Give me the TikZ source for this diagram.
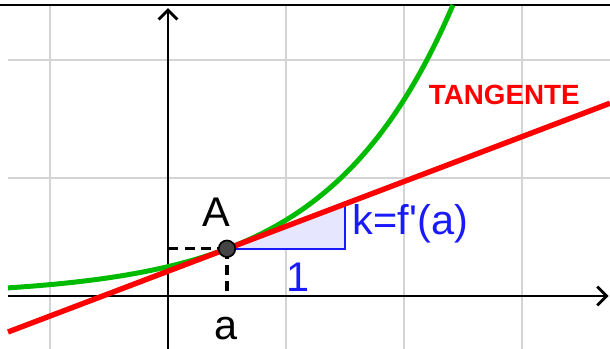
\documentclass[tikz,border=0pt]{standalone}
\usepackage{fontspec}
\setmainfont{Liberation Sans}
\usetikzlibrary{arrows.meta,positioning}
\definecolor{gridgray}{HTML}{D4D4D4}
\definecolor{curvegreen}{HTML}{00BB00}
\definecolor{tanred}{HTML}{FF0000}
\definecolor{slopeblue}{HTML}{1A1AFF}
\definecolor{slopefill}{HTML}{E6E6FF}
\definecolor{pointgray}{HTML}{444444}
\tikzset{
  gridline/.style={draw=gridgray,line width=0.5pt},
  axis/.style={-{Straight Barb[length=0.8mm,width=1.6mm]},line width=0.7pt},
  curve/.style={draw=curvegreen,line width=1.2pt},
  tangent/.style={draw=tanred,line width=1.3pt},
  slope/.style={draw=slopeblue,line width=0.6pt},
  guide/.style={dash pattern=on 2.4pt off 1.5pt,line width=0.75pt},
  dot/.style={circle,draw=black,fill=pointgray,line width=0.4pt,
    minimum size=4pt,inner sep=0pt},
  lbl/.style={font=\fontsize{10}{12}\selectfont,inner sep=0pt},
  tanlbl/.style={font=\bfseries\fontsize{6.7}{8}\selectfont,text=tanred,inner sep=0pt}
}
\begin{document}
\begin{tikzpicture}
  \useasboundingbox (-1.4237,-0.449) rectangle (3.7458,2.5085);
  \foreach \x in {-1,1,2,3} \draw[gridline] (\x,-0.449) -- (\x,2.466);
  \foreach \y in {1,2} \draw[gridline] (-1.356,\y) -- (3.7458,\y);
  \draw[line width=0.4pt] (-1.4237,2.466) -- (3.7458,2.466);
  \coordinate (a0) at (0.5,0.4);
  \coordinate (ax) at (0.5,0);
  \coordinate (ay) at (0,0.4);
  \coordinate (b0) at (1.5,0.4);
  \coordinate (c0) at (1.5,0.78);
  \coordinate (t1) at (-1.356,{0.4+0.38*(-1.856)});
  \coordinate (t2) at (3.7458,{0.4+0.38*3.2458});
  \coordinate (xl) at (-1.356,0);
  \coordinate (xr) at (3.735,0);
  \coordinate (yb) at (0,-0.449);
  \coordinate (yt) at (0,2.44);
  \fill[slopefill] (a0) -- (b0) -- (c0) -- cycle;
  \draw[axis] (xl) -- (xr);
  \draw[axis] (yb) -- (yt);
  \draw[guide] (a0) -- (ay);
  \draw[guide] (a0) -- (ax);
  \draw[slope] (a0) -- (b0) -- (c0);
  \draw[curve] plot[domain=-1.356:2.415,samples=80,smooth] (\x,{0.4*exp(0.95*(\x-0.5))});
  \draw[tangent] (t1) -- (t2);
  \node[dot] (A) at (a0) {};
  \node[lbl,anchor=base] (lA) at (0.41,0.585) {A};
  \node[lbl] (la) at (0.49,-0.28) {a};
  \node[lbl,text=slopeblue] (one) at (1.10,0.16) {1};
  \node[lbl,text=slopeblue,anchor=base west] (k) at (1.56,0.517) {k=f\textquotesingle(a)};
  \node[tanlbl] (tg) at (2.85,1.70) {TANGENTE};
\end{tikzpicture}
\end{document}
